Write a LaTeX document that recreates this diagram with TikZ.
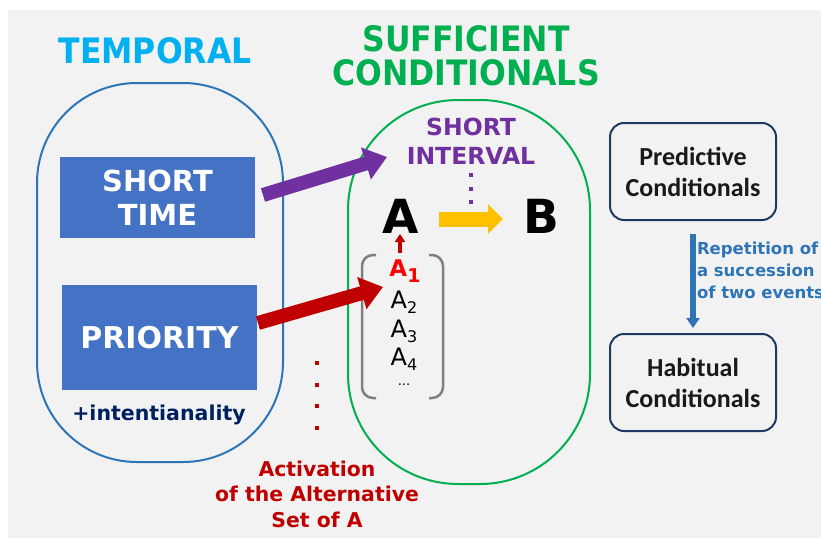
\documentclass[tikz,border=0pt]{standalone}
\usepackage{fontspec}
\setmainfont{DejaVu Sans}
\newfontfamily\condfont{DejaVu Sans Condensed}
\newfontfamily\calfont{Carlito}
\usetikzlibrary{arrows.meta}
\definecolor{bg}{HTML}{F2F2F2}
\definecolor{tblue}{HTML}{00B0F0}
\definecolor{sgreen}{HTML}{00B050}
\definecolor{lblue}{HTML}{2E75B6}
\definecolor{boxblue}{HTML}{4472C4}
\definecolor{navy}{HTML}{002060}
\definecolor{pnavy}{HTML}{1F3864}
\definecolor{purp}{HTML}{7030A0}
\definecolor{dred}{HTML}{C00000}
\definecolor{bred}{HTML}{FF0000}
\definecolor{ycol}{HTML}{FFC000}
\definecolor{bgray}{HTML}{7F7F7F}
\newcommand{\fs}[2]{\fontsize{#1}{#2}\selectfont}
\begin{document}
\begin{tikzpicture}[x=1pt,y=-1pt,
  every node/.style={inner sep=0pt, outer sep=0pt},
  titletxt/.style={font=\condfont\bfseries\fs{35}{34}, align=center},
  container/.style={draw, line width=2pt, rounded corners=100pt},
  bluebox/.style={fill=boxblue, text=white, font=\bfseries\fs{29}{34.5}, align=center},
  condbox/.style={draw=pnavy, line width=2pt, rounded corners=14pt, minimum width=166pt, minimum height=97pt, font=\calfont\bfseries\fs{26}{31}, text=black!90, align=center},
  bigarrow/.style={line width=14pt, -{Triangle[length=22pt,width=32pt]}},
  alt/.style={font=\fs{24}{24}},
  brk/.style={draw=bgray, line width=2.5pt, rounded corners=11pt}
]
\useasboundingbox (0,0) rectangle (821,538);
\fill[bg] (8,10) rectangle (821,538);

% titles
\node[titletxt, text=tblue] (temporal) at (155,50.5) {TEMPORAL};
\node[titletxt, text=sgreen] (suff) at (466,56) {SUFFICIENT\\CONDITIONALS};

% containers
\node[container, draw=lblue, minimum width=246pt, minimum height=379pt] (left) at (160,272.5) {};
\node[container, draw=sgreen, minimum width=242pt, minimum height=384pt, rounded corners=110pt] (green) at (469,292) {};

% left boxes
\node[bluebox, minimum width=195pt, minimum height=81pt] (stime) at (157.5,197.5) {SHORT\\TIME};
\node[bluebox, minimum width=195pt, minimum height=105pt, font=\bfseries\fs{30}{34}] (prio) at (159.5,337.5) {PRIORITY};
\node[text=navy, font=\bfseries\fs{20.5}{22}] (intent) at (159,415) {+intentianality};

% inside green
\node[text=purp, font=\bfseries\fs{23.5}{29}, align=center] (sint) at (471,141) {SHORT\\INTERVAL};
\node[font=\bfseries\fs{47}{47}] (A) at (401,216) {A};
\node[font=\bfseries\fs{47}{47}] (B) at (541,216) {B};
\node[text=bred, font=\bfseries\fs{23}{23}] (A1) at (405,271) {A\raisebox{-6pt}{\fs{19}{19}1}};
\node[alt] (A2) at (404,302) {A\raisebox{-5pt}{\fs{16}{16}2}};
\node[alt] (A3) at (404,331) {A\raisebox{-5pt}{\fs{16}{16}3}};
\node[alt] (A4) at (404,359) {A\raisebox{-5pt}{\fs{16}{16}4}};
\node[font=\fs{13}{13}] (Adots) at (404,385) {...};

% bracket
\coordinate (bl1) at (376,255); \coordinate (bl2) at (362,255);
\coordinate (bl3) at (362,398); \coordinate (bl4) at (376,398);
\coordinate (br1) at (429,255); \coordinate (br2) at (443,255);
\coordinate (br3) at (443,398); \coordinate (br4) at (429,398);
\draw[brk] (bl1) -- (bl2) -- (bl3) -- (bl4);
\draw[brk] (br1) -- (br2) -- (br3) -- (br4);

% purple dotted
\coordinate (pd1) at (471,173);
\coordinate (pd2) at (471,205);
\draw[purp, line width=4pt, dash pattern=on 4pt off 9.5pt] (pd1) -- (pd2);

% yellow arrow
\coordinate (ya1) at (439,219);
\coordinate (ya2) at (503,219);
\draw[ycol, line width=15pt, -{Triangle[length=15pt,width=29pt]}] (ya1) -- (ya2);

% small red arrow
\coordinate (ra1) at (400,253);
\coordinate (ra2) at (400,234);
\draw[dred, line width=4pt, -{Triangle[length=8pt,width=10pt]}] (ra1) -- (ra2);

% big arrows
\coordinate (pa1) at (263,195);
\coordinate (pa2) at (387,157);
\draw[purp, bigarrow] (pa1) -- (pa2);
\coordinate (da1) at (258,323);
\coordinate (da2) at (383,287);
\draw[dred, bigarrow] (da1) -- (da2);

% red dots
\coordinate (rd1) at (317,361);
\coordinate (rd2) at (317,431);
\draw[dred, line width=4pt, dash pattern=on 4pt off 17.7pt] (rd1) -- (rd2);
\node[text=dred, font=\bfseries\fs{20.4}{25.5}, align=center] (activ) at (317,494) {Activation\\of the Alternative\\Set of A};

% right boxes
\node[condbox] (pred) at (693,171.5) {Predictive\\Conditionals};
\node[condbox] (hab) at (693,382.5) {Habitual\\Conditionals};
\draw[lblue, line width=6pt, -{Triangle[length=10pt,width=13pt]}, shorten <=14pt, shorten >=6pt] (pred.south) -- (hab.north);
\node[text=lblue, font=\bfseries\fs{16.5}{22}, align=left, anchor=west] (rep) at (697,270) {Repetition of\\a succession\\of two events};
\end{tikzpicture}
\end{document}
